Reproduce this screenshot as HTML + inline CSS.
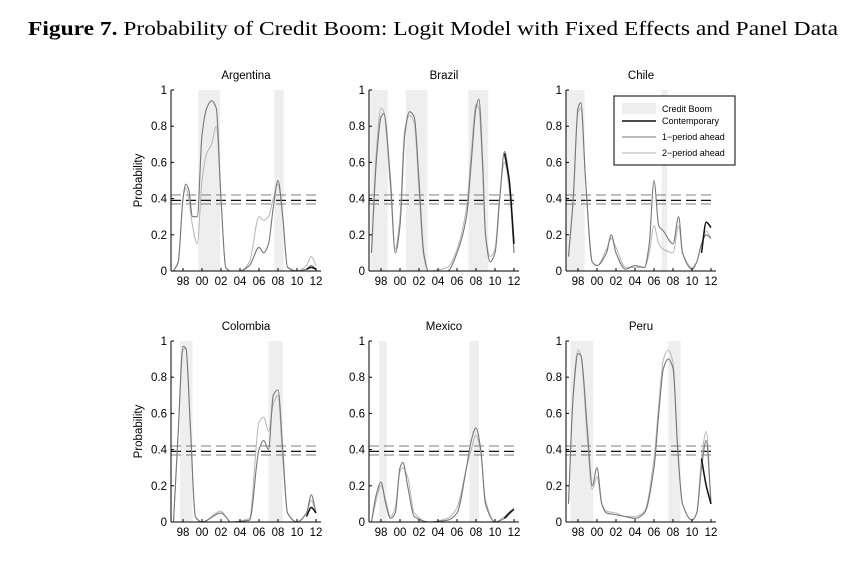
<!DOCTYPE html>
<html><head><meta charset="utf-8"><style>
body{margin:0;background:#fff;width:860px;height:581px;overflow:hidden}
svg{font-family:"Liberation Sans",sans-serif}
</style></head><body>
<svg id="s" width="860" height="581" xmlns="http://www.w3.org/2000/svg">
<text x="28" y="35" font-family="Liberation Serif" font-size="20" textLength="810" lengthAdjust="spacingAndGlyphs"><tspan font-weight="bold">Figure 7.</tspan> Probability of Credit Boom: Logit Model with Fixed Effects and Panel Data</text>
</svg>
<script>
const S=document.getElementById('s');
function el(t,a,txt){const e=document.createElementNS('http://www.w3.org/2000/svg',t);for(const k in a)e.setAttribute(k,a[k]);if(txt!==undefined)e.textContent=txt;S.appendChild(e);return e;}
const panels=[
{n:'Argentina',ax:171,y0:271,sh:[[1999.6,2001.9],[2007.6,2008.6]],
 a:[[1997,0],[1997.5,0.05],[1998,0.4],[1998.3,0.48],[1998.6,0.45],[1999,0.3],[1999.5,0.3],[2000,0.75],[2000.5,0.9],[2001,0.94],[2001.5,0.9],[2002,0.4],[2002.5,0.02],[2003,0],[2004,0],[2005,0.03],[2006,0.13],[2006.5,0.1],[2007,0.15],[2007.5,0.35],[2008,0.5],[2008.5,0.3],[2009,0.02],[2010,0],[2011,0.01],[2011.5,0.03],[2012,0.01]],
 b:[[1997,0],[1997.5,0.05],[1998,0.4],[1998.3,0.46],[1998.6,0.4],[1999,0.25],[1999.5,0.15],[2000,0.5],[2000.5,0.65],[2001,0.7],[2001.5,0.8],[2002,0.4],[2002.5,0.02],[2003,0],[2004,0],[2005,0.05],[2006,0.3],[2006.5,0.28],[2007,0.3],[2007.5,0.4],[2008,0.48],[2008.5,0.3],[2009,0.02],[2010,0],[2011,0.03],[2011.5,0.08],[2012,0.03]],c:[[2011,0.01],[2011.5,0.02],[2012,0.01]]},
{n:'Brazil',ax:369,y0:271,sh:[[1996.9,1998.7],[2000.6,2002.9],[2007.2,2009.3]],
 a:[[1997,0.1],[1997.5,0.6],[1998,0.85],[1998.3,0.87],[1999,0.5],[1999.5,0.1],[2000,0.25],[2000.5,0.75],[2001,0.88],[2001.5,0.85],[2002,0.5],[2002.5,0.1],[2003,0],[2005,0],[2006,0.1],[2007,0.3],[2007.5,0.6],[2008,0.9],[2008.3,0.95],[2008.7,0.6],[2009,0.2],[2009.5,0.05],[2010,0.1],[2010.5,0.4],[2011,0.66],[2011.5,0.5],[2012,0.1]],
 b:[[1997,0.1],[1997.5,0.65],[1998,0.9],[1998.3,0.88],[1999,0.45],[1999.5,0.12],[2000,0.3],[2000.5,0.78],[2001,0.86],[2001.5,0.82],[2002,0.45],[2002.5,0.08],[2003,0],[2005,0.02],[2006,0.12],[2007,0.35],[2007.5,0.65],[2008,0.92],[2008.3,0.9],[2008.7,0.55],[2009,0.2],[2009.5,0.08],[2010,0.12],[2010.5,0.42],[2011,0.6],[2011.5,0.45],[2012,0.1]],c:[[2011,0.65],[2011.5,0.5],[2012,0.15]]},
{n:'Chile',ax:566,y0:271,sh:[[1996.8,1998.7],[2006.8,2007.4]],
 a:[[1997,0.08],[1997.5,0.4],[1998,0.9],[1998.3,0.93],[1998.8,0.5],[1999.5,0.05],[2000,0.03],[2001,0.1],[2001.5,0.2],[2002,0.1],[2003,0.01],[2004,0.03],[2005,0.02],[2005.5,0.15],[2006,0.5],[2006.5,0.25],[2007,0.22],[2008,0.15],[2008.6,0.3],[2009,0.1],[2010,0.01],[2010.5,0.05],[2011,0.15],[2011.5,0.2],[2012,0.18]],
 b:[[1997,0.08],[1997.5,0.4],[1998,0.88],[1998.3,0.9],[1998.8,0.5],[1999.5,0.05],[2000,0.03],[2001,0.12],[2001.5,0.18],[2002,0.13],[2003,0.02],[2004,0.02],[2005,0.02],[2005.5,0.1],[2006,0.25],[2006.5,0.15],[2007,0.12],[2008,0.1],[2008.6,0.25],[2009,0.1],[2010,0.02],[2010.5,0.05],[2011,0.15],[2011.5,0.22],[2012,0.18]],c:[[2011,0.1],[2011.5,0.27],[2012,0.24]]},
{n:'Colombia',ax:171,y0:522,sh:[[1997.7,1999],[2007,2008.5]],
 a:[[1997,0],[1997.5,0.5],[1998,0.97],[1998.3,0.96],[1998.8,0.5],[1999.3,0.03],[2000,0],[2002,0.05],[2002.5,0.03],[2003,0],[2005,0.01],[2006,0.4],[2006.5,0.45],[2007,0.4],[2007.5,0.7],[2008,0.73],[2008.5,0.4],[2009,0.05],[2010,0],[2011,0.05],[2011.5,0.15],[2012,0.05]],
 b:[[1997,0],[1997.5,0.5],[1998,0.95],[1998.3,0.96],[1998.8,0.5],[1999.3,0.03],[2000,0],[2002,0.06],[2002.5,0.03],[2003,0],[2005,0.02],[2006,0.55],[2006.5,0.58],[2007,0.5],[2007.5,0.65],[2008,0.7],[2008.5,0.35],[2009,0.05],[2010,0],[2011,0.05],[2011.5,0.12],[2012,0.05]],c:[[2011,0.03],[2011.5,0.08],[2012,0.05]]},
{n:'Mexico',ax:369,y0:522,sh:[[1997.8,1998.6],[2007.3,2008.3]],
 a:[[1997,0],[1997.5,0.15],[1998,0.22],[1998.5,0.1],[1999,0.02],[1999.5,0.05],[2000,0.3],[2000.3,0.33],[2000.8,0.2],[2001.5,0.03],[2003,0],[2005,0.01],[2006,0.05],[2007,0.3],[2007.5,0.45],[2008,0.52],[2008.5,0.4],[2009,0.1],[2010,0],[2011,0.02],[2012,0.07]],
 b:[[1997,0],[1997.5,0.12],[1998,0.2],[1998.5,0.12],[1999,0.03],[1999.5,0.08],[2000,0.28],[2000.3,0.3],[2000.8,0.25],[2001.5,0.05],[2003,0],[2005,0.02],[2006,0.08],[2007,0.3],[2007.5,0.4],[2008,0.48],[2008.5,0.38],[2009,0.12],[2010,0],[2011,0.03],[2012,0.08]],c:[[2011,0.02],[2011.5,0.05],[2012,0.07]]},
{n:'Peru',ax:566,y0:522,sh:[[1997.2,1999.6],[2007.5,2008.8]],
 a:[[1997,0.1],[1997.5,0.7],[1998,0.93],[1998.3,0.92],[1999,0.5],[1999.5,0.2],[2000,0.3],[2000.5,0.1],[2001,0.05],[2002,0.04],[2003,0.03],[2004,0.02],[2005,0.05],[2006,0.3],[2006.5,0.6],[2007,0.85],[2007.5,0.9],[2008,0.85],[2008.5,0.4],[2009,0.1],[2010,0.01],[2010.5,0.05],[2011,0.3],[2011.5,0.45],[2012,0.1]],
 b:[[1997,0.1],[1997.5,0.72],[1998,0.95],[1998.3,0.92],[1999,0.45],[1999.5,0.18],[2000,0.25],[2000.5,0.1],[2001,0.06],[2002,0.05],[2003,0.03],[2004,0.03],[2005,0.06],[2006,0.35],[2006.5,0.65],[2007,0.9],[2007.5,0.95],[2008,0.88],[2008.5,0.4],[2009,0.1],[2010,0.01],[2010.5,0.05],[2011,0.35],[2011.5,0.5],[2012,0.12]],c:[[2011,0.35],[2011.5,0.2],[2012,0.1]]}
];
const H=181;
function mono(q){const n=q.length;const d=[],m=[];for(let i=0;i<n-1;i++)d.push((q[i+1][1]-q[i][1])/(q[i+1][0]-q[i][0]));
 m[0]=d[0];m[n-1]=d[n-2];for(let i=1;i<n-1;i++){m[i]=(d[i-1]*d[i]<=0)?0:2/(1/d[i-1]+1/d[i]);}
 let s='M'+q[0];for(let i=0;i<n-1;i++){const h=(q[i+1][0]-q[i][0])/3;s+='C'+[q[i][0]+h,q[i][1]+m[i]*h]+' '+[q[i+1][0]-h,q[i+1][1]-m[i+1]*h]+' '+q[i+1];}return s;}
panels.forEach((p,i)=>{
 const X=y=>p.ax+12+(y-1998)*9.5, Y=v=>p.y0-v*H;
 const right=p.ax+150;
 p.sh.forEach(s=>el('rect',{x:X(s[0]),y:Y(1),width:X(s[1])-X(s[0]),height:H,fill:'#eeeeee'}));
 [[0.42,'#555',0.8],[0.39,'#111',1.3],[0.37,'#555',0.8]].forEach(d=>el('line',{x1:p.ax,x2:right,y1:Y(d[0]),y2:Y(d[0]),stroke:d[1],'stroke-width':d[2],'stroke-dasharray':'10,5'}));
 const path=pts=>mono(pts.map(t=>[X(t[0]),Y(t[1])]));
 el('path',{d:path(p.b),fill:'none',stroke:'#b5b5b5','stroke-width':1});
 el('path',{d:path(p.a),fill:'none',stroke:'#777','stroke-width':1.1});
 el('path',{d:path(p.c),fill:'none',stroke:'#111','stroke-width':1.5});
 el('line',{x1:p.ax,x2:p.ax,y1:Y(1),y2:p.y0,stroke:'#000','stroke-width':1});
 el('line',{x1:p.ax,x2:right,y1:p.y0,y2:p.y0,stroke:'#000','stroke-width':1});
 [0,0.2,0.4,0.6,0.8,1].forEach(v=>{el('line',{x1:p.ax,x2:p.ax+3,y1:Y(v),y2:Y(v),stroke:'#000'});el('text',{x:p.ax-4,y:Y(v)+4,'text-anchor':'end','font-size':11.5},String(v))});
 ['98','00','02','04','06','08','10','12'].forEach((t,k)=>{const x=X(1998+2*k);el('line',{x1:x,x2:x,y1:p.y0,y2:p.y0-3,stroke:'#000'});el('text',{x:x,y:p.y0+14,'text-anchor':'middle','font-size':11.5},t)});
 el('text',{x:p.ax+75,y:Y(1)-11,'text-anchor':'middle','font-size':11.5},p.n);
 if(p.ax===171)el('text',{x:0,y:0,transform:`translate(142,${Y(0.5)}) rotate(-90)`,'text-anchor':'middle','font-size':11.5},'Probability');
});
el('rect',{x:614,y:96,width:121,height:69,fill:'#fff',stroke:'#000','stroke-width':1});
el('rect',{x:622,y:103,width:34,height:11,fill:'#eeeeee'});
[['#111',1.4,124,'Contemporary'],['#777',1.1,140,'1\u2212period ahead'],['#b5b5b5',1,156,'2\u2212period ahead']].forEach(r=>{el('line',{x1:622,x2:656,y1:r[2]-3,y2:r[2]-3,stroke:r[0],'stroke-width':r[1]});el('text',{x:662,y:r[2],'font-size':9},r[3])});
el('text',{x:662,y:112,'font-size':9},'Credit Boom');
</script>
</body></html>
